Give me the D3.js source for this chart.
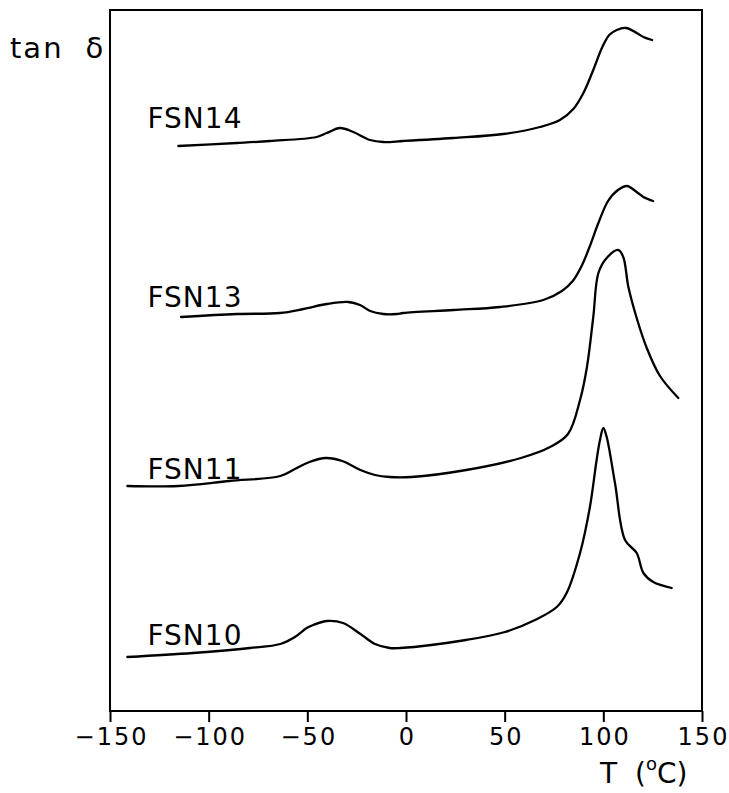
<!DOCTYPE html>
<html>
<head>
<meta charset="utf-8">
<script src="https://cdn.jsdelivr.net/npm/d3@7"></script>
<style>
  body { margin: 0; background: #fff; }
  text { font-family: "DejaVu Sans", sans-serif; fill: #000; }
</style>
</head>
<body>
<div id="vis"></div>
<script>
// tan delta curves, vertically shifted (arbitrary units)
const xTicks = [-150, -100, -50, 0, 50, 100, 150];
const seriesNames = ["FSN14", "FSN13", "FSN11", "FSN10"];
const labelLevels = [5.83, 4.04, 2.32, 0.66];

const fsn14 = [
  [-115.4, 5.65], [-85.8, 5.68], [-68.9, 5.70], [-45.3, 5.74], [-40.2, 5.78],
  [-33.4, 5.83], [-26.7, 5.79], [-18.2, 5.71], [-11.5, 5.69], [-1.4, 5.70],
  [24.0, 5.73], [49.3, 5.77], [67.9, 5.84], [78.0, 5.91], [84.8, 6.02],
  [89.9, 6.18], [94.9, 6.41], [99.5, 6.64], [103.0, 6.76], [106.8, 6.81],
  [111.5, 6.83], [116.9, 6.78], [120.3, 6.74], [124.7, 6.71]
];
const fsn13 = [
  [-114.0, 3.94], [-85.8, 3.97], [-63.9, 3.98], [-52.0, 4.02], [-40.2, 4.07],
  [-29.2, 4.09], [-23.3, 4.06], [-18.2, 4.00], [-11.5, 3.97], [-4.7, 3.97],
  [-1.4, 3.98], [24.0, 4.01], [47.6, 4.04], [69.6, 4.11], [79.0, 4.20],
  [84.5, 4.30], [89.0, 4.45], [93.0, 4.64], [97.3, 4.87], [102.4, 5.10],
  [107.4, 5.21], [112.0, 5.25], [116.9, 5.19], [120.3, 5.14], [125.2, 5.10]
];
const fsn11 = [
  [-141.2, 2.25], [-115.4, 2.25], [-89.5, 2.30], [-63.7, 2.35], [-56.3, 2.42],
  [-48.9, 2.49], [-40.6, 2.53], [-32.3, 2.50], [-23.1, 2.41], [-15.7, 2.36],
  [-8.3, 2.34], [2.8, 2.34], [30.5, 2.41], [58.2, 2.53], [73.0, 2.64],
  [82.1, 2.77], [88.2, 3.11], [91.7, 3.44], [94.9, 3.94], [97.5, 4.38],
  [101.7, 4.53], [107.6, 4.61], [110.1, 4.54], [112.7, 4.24], [116.9, 3.93],
  [122.0, 3.63], [128.7, 3.35], [138.0, 3.13]
];
const fsn10 = [
  [-141.2, 0.54], [-108.0, 0.58], [-79.1, 0.63], [-63.7, 0.67], [-56.3, 0.74],
  [-50.3, 0.83], [-47.0, 0.86], [-40.0, 0.90], [-31.9, 0.88], [-23.1, 0.77],
  [-15.7, 0.67], [-8.3, 0.63], [-3.0, 0.63], [30.4, 0.71], [50.2, 0.79],
  [65.4, 0.91], [76.4, 1.04], [81.4, 1.18], [88.2, 1.58], [93.2, 2.04],
  [96.6, 2.51], [98.3, 2.71], [100.0, 2.83], [101.7, 2.74], [105.9, 2.28],
  [111.0, 1.71], [116.9, 1.58], [120.3, 1.38], [125.3, 1.29], [134.6, 1.23]
];
const allSeries = [fsn14, fsn13, fsn11, fsn10];

// Dimensions
const width = 729;
const height = 793;
const margin = { top: 10, right: 27, bottom: 82, left: 110 };

const svg = d3.select("#vis")
  .append("svg")
  .attr("width", width)
  .attr("height", height);

const x = d3.scaleLinear()
  .domain([-150, 150])
  .range([margin.left, width - margin.right]);

const y = d3.scaleLinear()
  .domain([0, 7.01])
  .range([height - margin.bottom, margin.top]);

// Frame
svg.append("rect")
  .attr("x", x(-150))
  .attr("y", y(7.01))
  .attr("width", x(150) - x(-150))
  .attr("height", y(0) - y(7.01))
  .attr("fill", "none")
  .attr("stroke", "#000")
  .attr("stroke-width", 2);

// Bottom axis, ticks pointing outward
const xAxis = svg.append("g")
  .attr("transform", `translate(0,${y(0)})`)
  .call(d3.axisBottom(x).tickValues(xTicks).tickSize(11).tickSizeOuter(0).tickPadding(6));

xAxis.select(".domain").remove();
xAxis.selectAll(".tick line").attr("stroke", "#000").attr("stroke-width", 2);
xAxis.selectAll(".tick text")
  .attr("font-size", "24px")
  .attr("letter-spacing", "2px")
  .attr("dx", "1px")
  .style("font-family", "DejaVu Sans, sans-serif")
  .attr("fill", "#000");

// Curves
const line = d3.line()
  .x(d => x(d[0]))
  .y(d => y(d[1]))
  .curve(d3.curveCatmullRom.alpha(0.5));

svg.selectAll("path.curve")
  .data(allSeries)
  .join("path")
  .attr("class", "curve")
  .attr("fill", "none")
  .attr("stroke", "#000")
  .attr("stroke-width", 2.3)
  .attr("stroke-linejoin", "round")
  .attr("stroke-linecap", "round")
  .attr("d", line);

// Series labels
svg.selectAll("text.series")
  .data(seriesNames)
  .join("text")
  .attr("class", "series")
  .attr("x", x(-131))
  .attr("y", (d, i) => y(labelLevels[i]))
  .attr("font-size", "28px")
  .attr("letter-spacing", "1px")
  .text(d => d);

// Axis titles
const yTitle = svg.append("text")
  .attr("x", 10)
  .attr("y", 58)
  .attr("font-size", "29px")
  .attr("letter-spacing", "2px");
yTitle.append("tspan").text("tan");
yTitle.append("tspan").attr("dx", 22).text("δ");

const xTitle = svg.append("text")
  .attr("x", 600)
  .attr("y", 783)
  .attr("font-size", "28px");
xTitle.append("tspan").text("T");
xTitle.append("tspan").attr("dx", 18).text("(");
xTitle.append("tspan").attr("font-size", "18px").attr("dy", -13).text("o");
xTitle.append("tspan").attr("dy", 13).text("C)");
</script>
</body>
</html>
